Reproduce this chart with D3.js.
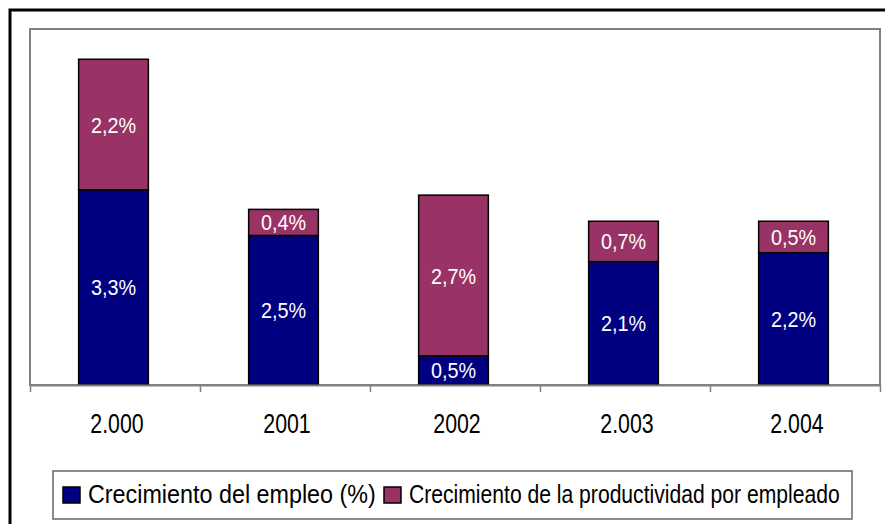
<!DOCTYPE html>
<html>
<head>
<meta charset="utf-8">
<script src="https://cdn.jsdelivr.net/npm/d3@7"></script>
<style>
  body { margin: 0; background: #fff; }
  svg { display: block; font-family: "Liberation Sans", Arial, sans-serif; }
</style>
</head>
<body>
<script>
const WIDTH  = 885;
const HEIGHT = 524;

// Datos
const years        = ['2.000', '2001', '2002', '2.003', '2.004'];
const empleo       = [3.29, 2.52, 0.49, 2.08, 2.23];
const productividad = [2.2, 0.44, 2.71, 0.68, 0.53];
const seriesNames  = ['Crecimiento del empleo (%)', 'Crecimiento de la productividad por empleado'];
const colors       = ['#000080', '#993366'];

const plot = { left: 30, top: 29, right: 880, bottom: 385 };

const svg = d3.select('body').append('svg')
    .attr('width', WIDTH)
    .attr('height', HEIGHT);

svg.append('rect')
    .attr('width', WIDTH).attr('height', HEIGHT).attr('fill', '#fff');

// marco exterior
svg.append('rect')
    .attr('x', 10).attr('y', 10)
    .attr('width', 1000).attr('height', 1000)
    .attr('fill', 'none').attr('stroke', '#000').attr('stroke-width', 3);

// área de trazado
svg.append('rect')
    .attr('x', plot.left).attr('y', plot.top)
    .attr('width', plot.right - plot.left).attr('height', plot.bottom - plot.top)
    .attr('fill', 'none').attr('stroke', '#808080').attr('stroke-width', 2);

const x = d3.scaleBand().domain(years).range([plot.left, plot.right]).padding(0);
const y = d3.scaleLinear().domain([0, 6]).range([plot.bottom, plot.top]);
const barW = x.bandwidth() * 0.41;

const table = years.map((yr, i) => ({ year: yr, emp: empleo[i], prod: productividad[i] }));
const stack = d3.stack().keys(['emp', 'prod'])(table);

// texto estrecho: se escala en horizontal dentro de un grupo
const narrowText = (parent, px, py, k, size, str, anchor) => {
    parent.append('g')
        .attr('transform', `translate(${px},${py}) scale(${k},1)`)
      .append('text')
        .attr('text-anchor', anchor)
        .attr('font-size', size)
        .text(str);
};

const layers = svg.selectAll('g.layer')
    .data(stack)
    .enter().append('g')
    .attr('class', 'layer')
    .attr('fill', (d, i) => colors[i]);

layers.selectAll('rect')
    .data(d => d)
    .enter().append('rect')
    .attr('x', d => x(d.data.year) + (x.bandwidth() - barW) / 2 - 1.5)
    .attr('y', d => y(d[1]))
    .attr('width', barW)
    .attr('height', d => y(d[0]) - y(d[1]))
    .attr('stroke', '#000')
    .attr('stroke-width', 1.5);

const valueLabels = svg.append('g').attr('fill', '#fff');
stack.forEach(layer => layer.forEach(d => {
    narrowText(valueLabels,
        x(d.data.year) + x.bandwidth() / 2 - 1.5,
        (y(d[0]) + y(d[1])) / 2 + 8,
        0.88, 22.5,
        d3.format('.1f')(d[1] - d[0]).replace('.', ',') + '%', 'middle');
}));

// eje X con marcas entre categorías
const xb = d3.scaleLinear().domain([0, years.length]).range([plot.left, plot.right]);
const axis = svg.append('g')
    .attr('transform', `translate(0,${plot.bottom})`)
    .call(d3.axisBottom(xb).tickValues(d3.range(years.length + 1)).tickFormat('').tickSize(7).tickSizeOuter(0));
axis.select('.domain').attr('stroke', '#808080').attr('stroke-width', 2);
axis.selectAll('.tick line').attr('stroke', '#808080').attr('stroke-width', 1.5);

const catLabels = svg.append('g').attr('fill', '#000');
years.forEach(yr => narrowText(catLabels, x(yr) + x.bandwidth() / 2 + 2, 433, 0.79, 27, yr, 'middle'));

// leyenda
const legend = svg.append('g');
legend.append('rect')
    .attr('x', 53).attr('y', 471).attr('width', 799).attr('height', 48)
    .attr('fill', '#fff').attr('stroke', '#666').attr('stroke-width', 1.5);

const legendX = [63, 384];
const legendW = [288, 431];
seriesNames.forEach((name, i) => {
    legend.append('rect')
        .attr('x', legendX[i]).attr('y', 487)
        .attr('width', 17).attr('height', 16)
        .attr('fill', colors[i])
        .attr('stroke', '#000').attr('stroke-width', 1.5);
    // ancho natural para calcular el factor de escala
    const probe = legend.append('text').attr('font-size', 25).text(name);
    const k = legendW[i] / probe.node().getComputedTextLength();
    probe.remove();
    narrowText(legend, legendX[i] + 25, 503, k, 25, name, 'start');
});
</script>
</body>
</html>
